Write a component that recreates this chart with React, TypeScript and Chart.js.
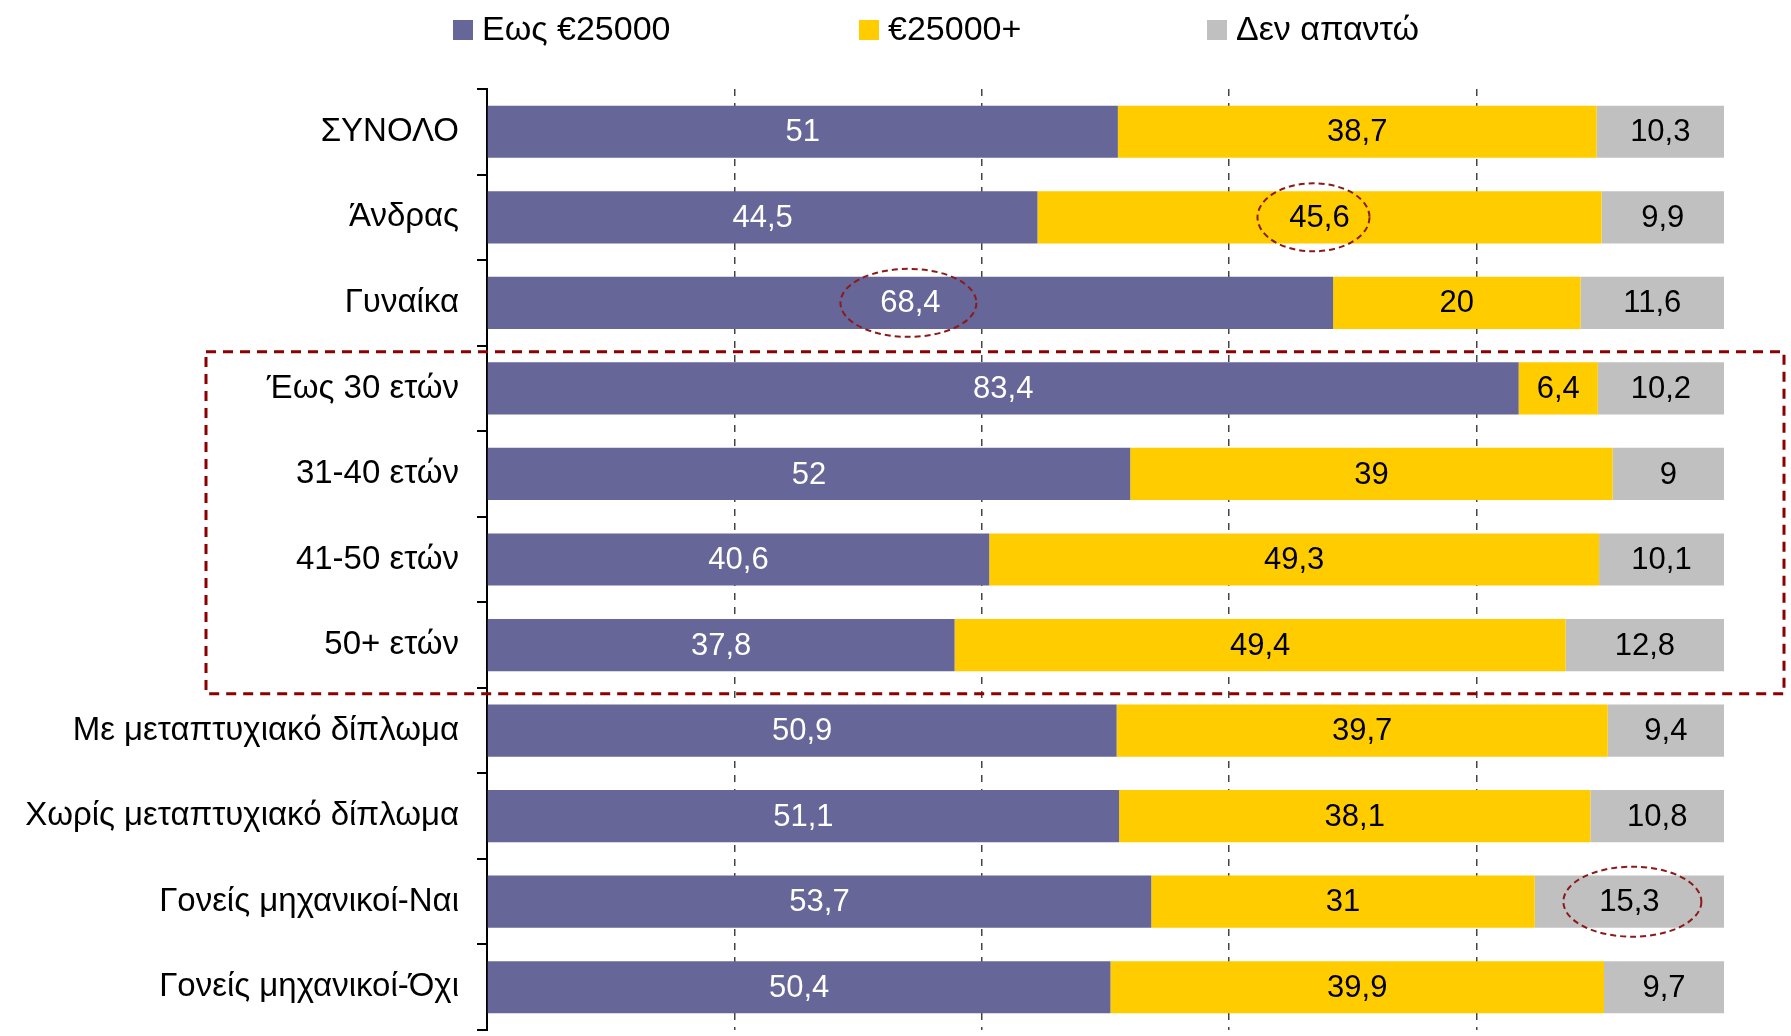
import React, { useEffect, useRef } from "react";
import { Chart, registerables } from "chart.js";

Chart.register(...registerables);

const categories = [
  "ΣΥΝΟΛΟ",
  "Άνδρας",
  "Γυναίκα",
  "Έως 30 ετών",
  "31-40 ετών",
  "41-50 ετών",
  "50+ ετών",
  "Με μεταπτυχιακό δίπλωμα",
  "Χωρίς μεταπτυχιακό δίπλωμα",
  "Γονείς μηχανικοί-Ναι",
  "Γονείς μηχανικοί-Όχι",
];
const seriesNames = ["Εως €25000", "€25000+", "Δεν απαντώ"];
const upTo25000 = [51, 44.5, 68.4, 83.4, 52, 40.6, 37.8, 50.9, 51.1, 53.7, 50.4];
const over25000 = [38.7, 45.6, 20, 6.4, 39, 49.3, 49.4, 39.7, 38.1, 31, 39.9];
const noAnswer = [10.3, 9.9, 11.6, 10.2, 9, 10.1, 12.8, 9.4, 10.8, 15.3, 9.7];
const colors = ["#666699", "#FFCC00", "#C0C0C0"];
const labelColors = ["#FFFFFF", "#000000", "#000000"];
// highlighted segments: [datasetIndex, categoryIndex]
const highlighted: [number, number][] = [
  [1, 1],
  [0, 2],
  [2, 9],
];
// boxed group of categories (first, last index)
const boxedGroup = [3, 6];

const FONT = "Arial, 'Liberation Sans', sans-serif";

const fmt = (v: number) => String(v).replace(".", ",");

const legendPlugin = {
  id: "customLegend",
  afterDraw(chart: any) {
    const ctx = chart.ctx;
    const xs = [453, 859, 1207];
    ctx.save();
    ctx.font = `34px ${FONT}`;
    ctx.textBaseline = "middle";
    ctx.textAlign = "left";
    chart.data.datasets.forEach((ds: any, i: number) => {
      const x = xs[i];
      const y = 30;
      ctx.fillStyle = ds.backgroundColor;
      ctx.fillRect(x, y - 10, 20, 20);
      ctx.fillStyle = "#000";
      ctx.fillText(ds.label, x + 29, y + 1);
    });
    ctx.restore();
  },
};

const valueLabelPlugin = {
  id: "valueLabels",
  afterDatasetsDraw(chart: any) {
    const ctx = chart.ctx;
    ctx.save();
    ctx.font = `31px ${FONT}`;
    ctx.textAlign = "center";
    ctx.textBaseline = "middle";
    chart.data.datasets.forEach((ds: any, di: number) => {
      const meta = chart.getDatasetMeta(di);
      meta.data.forEach((el: any, i: number) => {
        const cx = (el.x + el.base) / 2;
        ctx.fillStyle = labelColors[di];
        ctx.fillText(fmt(ds.data[i]), cx, el.y + 1);
      });
    });
    ctx.restore();
  },
};

const annotationPlugin = {
  id: "annotations",
  afterDraw(chart: any) {
    const ctx = chart.ctx;
    const yScale = chart.scales.y;
    const shapes = [
      { dx: -6, rx: 56, ry: 34 },
      { dx: -2, rx: 68, ry: 34 },
      { dx: 3, rx: 69, ry: 35 },
    ];
    ctx.save();
    // ellipses
    ctx.strokeStyle = "#8B1A1A";
    ctx.lineWidth = 2;
    ctx.setLineDash([6, 4]);
    highlighted.forEach(([di, ci], k) => {
      const el = chart.getDatasetMeta(di).data[ci];
      const cx = (el.x + el.base) / 2 + shapes[k].dx;
      ctx.beginPath();
      ctx.ellipse(cx, el.y, shapes[k].rx, shapes[k].ry, 0, 0, Math.PI * 2);
      ctx.stroke();
    });
    // dashed rectangle around age group
    const step = yScale.getPixelForValue(1) - yScale.getPixelForValue(0);
    const top = yScale.getPixelForValue(boxedGroup[0]) - step / 2 + 6;
    const bottom = yScale.getPixelForValue(boxedGroup[1]) + step / 2 + 6;
    ctx.strokeStyle = "#8B0000";
    ctx.lineWidth = 3;
    ctx.setLineDash([10, 7]);
    ctx.strokeRect(206, top, chart.width - 7 - 206, bottom - top);
    ctx.restore();
  },
};

export default function App() {
  const ref = useRef<HTMLCanvasElement | null>(null);
  useEffect(() => {
    if (!ref.current) return;
    const data = [upTo25000, over25000, noAnswer];
    const chart = new Chart(ref.current, {
      type: "bar",
      data: {
        labels: categories,
        datasets: seriesNames.map((name, i) => ({
          label: name,
          data: data[i],
          backgroundColor: colors[i],
          borderWidth: 0,
          barPercentage: 0.61,
          categoryPercentage: 1,
        })),
      },
      options: {
        indexAxis: "y",
        responsive: false,
        animation: false,
        layout: { padding: { left: 0, top: 89, right: 67, bottom: 6 } },
        plugins: {
          legend: { display: false },
          tooltip: { enabled: false },
        },
        scales: {
          x: {
            stacked: true,
            min: 0,
            max: 100,
            ticks: { display: false, stepSize: 20 },
            grid: {
              drawTicks: false,
              lineWidth: 1.5,
              color: (c: any) =>
                c.tick && (c.tick.value === 0 || c.tick.value === 100)
                  ? "rgba(0,0,0,0)"
                  : "#444444",
            },
            border: { display: false, dash: [7, 7] },
            afterFit: (s: any) => {
              s.height = 0;
              s.paddingLeft = 0;
              s.paddingRight = 0;
            },
          },
          y: {
            stacked: true,
            grid: {
              drawOnChartArea: false,
              drawTicks: true,
              tickLength: 10,
              color: "#000",
              lineWidth: 2,
            },
            border: { display: true, color: "#000", width: 2 },
            ticks: {
              color: "#000",
              padding: 18,
              font: { family: FONT, size: 33 },
            },
            afterFit: (s: any) => {
              s.width = 487;
              s.paddingTop = 0;
              s.paddingBottom = 0;
            },
          },
        },
      },
      plugins: [legendPlugin, valueLabelPlugin, annotationPlugin],
    });
    return () => chart.destroy();
  }, []);
  return (
    <div style={{ position: "absolute", left: 0, top: 0, width: 1791, height: 1036, background: "#fff" }}>
      <canvas ref={ref} width={1791} height={1036} />
    </div>
  );
}
